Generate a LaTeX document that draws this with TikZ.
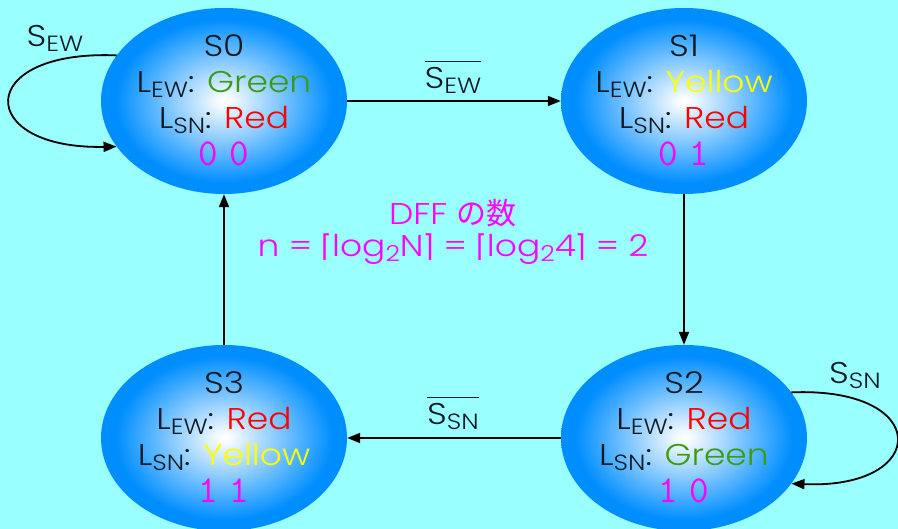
\documentclass[tikz,border=0pt]{standalone}
\usepackage{fontspec}
\setmainfont{Poppins}[UprightFont=* Light, FakeStretch=1.15]
\newfontfamily\cjk{Noto Sans CJK JP}
\newfontfamily\dvs{DejaVu Sans}[FakeStretch=0.9]
\newfontfamily\monof{Latin Modern Mono}
\usetikzlibrary{arrows.meta,shapes.geometric}
\definecolor{bg}{RGB}{153,255,255}
\definecolor{ellb}{RGB}{0,142,255}
\definecolor{txt}{RGB}{15,25,35}
\definecolor{grn}{RGB}{60,155,20}
\definecolor{ylw}{RGB}{255,255,0}
\definecolor{rd}{RGB}{255,0,0}
\definecolor{mag}{RGB}{255,0,255}
\pgfdeclareradialshading{ellshade}{\pgfpoint{0bp}{0bp}}{color(0bp)=(white); color(1.5bp)=(ellb!4!white); color(22bp)=(ellb); color(50bp)=(ellb)}
\newcommand\sbx[1]{\raisebox{-5pt}{\fontsize{22}{22}\selectfont #1}}
\newcommand\LEW{L\sbx{EW}}
\newcommand\LSN{L\sbx{SN}}
\newcommand\dd[2]{#1\hspace{11pt}#2}
\newcommand\ovl[1]{\leavevmode\vbox{\hrule height 1.3pt \kern 5.5pt \hbox{#1}}}
\tikzset{
  stnode/.style={ellipse, minimum width=246pt, minimum height=186pt, inner sep=0pt, shading=ellshade},
  ln/.style={anchor=base, inner sep=0pt, font=\fontsize{30}{30}\selectfont, text=txt},
  dg/.style={anchor=base, inner sep=0pt, font=\monof\fontsize{38}{38}\selectfont, text=mag},
  arr/.style={line width=1.8pt, draw=black, -{Triangle[length=13pt,width=10pt]}}
}
\newcommand\mkstate[7]{%
  \node[stnode] (#1) at (#2,#3) {};
  \node[ln] (#1t) at (#2,#3-44) {#4};
  \node[ln] (#1e) at (#2,#3-8) {\LEW: #5};
  \node[ln] (#1s) at (#2,#3+28) {\LSN: #6};
  \node[dg] (#1d) at (#2,#3+65) {#7};}
\begin{document}
\begin{tikzpicture}[x=1pt,y=-1pt]
\path[use as bounding box, fill=bg] (0,0) rectangle (898,529);
\mkstate{s0}{224}{101}{S0}{\textcolor{grn}{Green}}{\textcolor{rd}{Red}}{\dd00}
\mkstate{s1}{684}{101}{S1}{\textcolor{ylw}{Yellow}}{\textcolor{rd}{Red}}{\dd01}
\mkstate{s2}{684}{438}{S2}{\textcolor{rd}{Red}}{\textcolor{grn}{Green}}{\dd10}
\mkstate{s3}{224}{438}{S3}{\textcolor{rd}{Red}}{\textcolor{ylw}{Yellow}}{\dd11}
\draw[arr] (s0) -- (s1);
\draw[arr] (s1) -- (s2);
\draw[arr] (s2) -- (s3);
\draw[arr] (s3) -- (s0);
\draw[arr] (s0.157) .. controls +(-143,-6) and +(-142,3) .. (s0.203);
\draw[arr] (s2.23) .. controls +(141,-6) and +(139,6) .. (s2.-23);
\node[ln] (lew) at (55,47) {S\sbx{EW}};
\node[ln] (lsn) at (855,384) {S\sbx{SN}};
\node[ln] (lnew) at (453,89) {\ovl{S\sbx{EW}}};
\node[ln] (lnsn) at (453,425) {\ovl{S\sbx{SN}}};
\node[ln, text=mag] (dff) at (453,225) {DFF {\cjk の数}};
\node[ln, text=mag] (form) at (453,257) {n = {\dvs ⌈}log\sbx{2}N{\dvs ⌉} = {\dvs ⌈}log\sbx{2}4{\dvs ⌉} = 2};
\end{tikzpicture}
\end{document}
